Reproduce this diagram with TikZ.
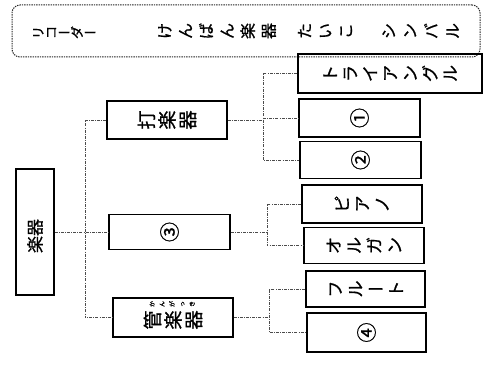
\documentclass[tikz,border=0pt]{standalone}
\usepackage{fontspec}
\usepackage{graphicx}
\newfontfamily\jp[FakeBold=1]{Noto Sans CJK JP}
\newlength\vtgap
\def\choon{ー}
\def\vtC#1{\def\vttmp{#1}\ifx\vttmp\choon\makebox[1em]{\raisebox{0.12em}{ー}}\else\rotatebox{90}{\rule[-0.12em]{0pt}{1em}\makebox[1em]{#1}}\fi}
\def\vt#1{\vtB#1\relax}
\def\vtB#1{\vtC{#1}\vtA}
\def\vtA#1{\ifx#1\relax\else\hspace{\vtgap}\vtC{#1}\expandafter\vtA\fi}
\tikzset{
  box/.style={draw, line width=1.1pt, inner sep=0pt, font=\jp\fontsize{17}{17}\selectfont},
  bigtext/.style={font=\jp\fontsize{19}{19}\selectfont},
  numtext/.style={font=\jp\fontsize{20}{20}\selectfont},
  conn/.style={draw=black!70, line width=0.8pt, dash pattern=on 3pt off 1.2pt on 0.8pt off 1.2pt},
  topbox/.style={draw=black!85, line width=1pt, dash pattern=on 1.4pt off 1pt, rounded corners=8pt, inner sep=0pt, font=\jp\fontsize{16}{16}\selectfont}
}
\begin{document}
\begin{tikzpicture}[x=1pt, y=-1pt]
\useasboundingbox (0,0) rectangle (496,369);
% top word box
\node[topbox, minimum width=468pt, minimum height=52pt] (top) at (246,31)
  {{\fontsize{13}{13}\selectfont\setlength\vtgap{0pt}\vt{リコーダー}}\hspace{60pt}\setlength\vtgap{4.8pt}\vt{けんばん楽器}\hspace{20pt}\setlength\vtgap{4.5pt}\vt{たいこ}\hspace{27pt}\setlength\vtgap{5.3pt}\vt{シンバル}};
% root
\node[box, minimum width=38pt, minimum height=126pt] (root) at (35,232) {};
\node[font=\jp\fontsize{17}{17}\selectfont, rotate=90] (roottext) at (35,236) {楽器};
% second level
\node[box, bigtext, minimum width=120pt, minimum height=38pt] (da) at (167,120) {\setlength\vtgap{1.5pt}\vt{打楽器}};
\node[box, numtext, minimum width=121pt, minimum height=35pt] (san) at (169.5,232) {\rotatebox{90}{③}};
\node[box, minimum width=120pt, minimum height=39pt] (kan) at (173,317.5) {};
\node[bigtext] (kantext) at (173,320) {\setlength\vtgap{1.5pt}\vt{管楽器}};
\node[font=\jp\fontsize{6}{6}\selectfont] (ruby) at (172,304) {\setlength\vtgap{4pt}\vt{かんがっき}};
% leaves
\node[box, minimum width=184pt, minimum height=39pt] (tri) at (390,73.5) {\setlength\vtgap{3pt}\vt{トライアングル}};
\node[box, numtext, minimum width=121pt, minimum height=38pt] (one) at (359.5,118) {\rotatebox{90}{①}};
\node[box, numtext, minimum width=121pt, minimum height=37pt] (two) at (360.5,160) {\rotatebox{90}{②}};
\node[box, minimum width=120pt, minimum height=38pt] (piano) at (362,204) {\setlength\vtgap{3pt}\vt{ピアノ}};
\node[box, minimum width=120pt, minimum height=36pt] (organ) at (364,245.5) {\setlength\vtgap{3.3pt}\vt{オルガン}};
\node[box, minimum width=119pt, minimum height=36pt] (flute) at (365.5,289) {\setlength\vtgap{3.3pt}\vt{フルート}};
\node[box, numtext, minimum width=119pt, minimum height=39pt] (four) at (366.5,332.5) {\rotatebox{90}{④}};
% junction coordinates
\coordinate (b) at (85,232);
\coordinate (c) at (263,120);
\coordinate (d) at (267,232);
\coordinate (e) at (269,317.5);
% connectors: root
\draw[conn] (root.east) -- (san.west);
\draw[conn] (da.west) -- (da.west -| b) -- (kan.west -| b) -- (kan.west);
% connectors: percussion
\draw[conn] (da.east) -- (c);
\draw[conn] (tri.west) -- (tri.west -| c) -- (two.west -| c) -- (two.west);
\draw[conn] (one.west -| c) -- (one.west);
% connectors: keyboard
\draw[conn] (san.east) -- (d);
\draw[conn] (piano.west) -- (piano.west -| d) -- (organ.west -| d) -- (organ.west);
% connectors: wind
\draw[conn] (kan.east) -- (e);
\draw[conn] (flute.west) -- (flute.west -| e) -- (four.west -| e) -- (four.west);
\end{tikzpicture}
\end{document}
